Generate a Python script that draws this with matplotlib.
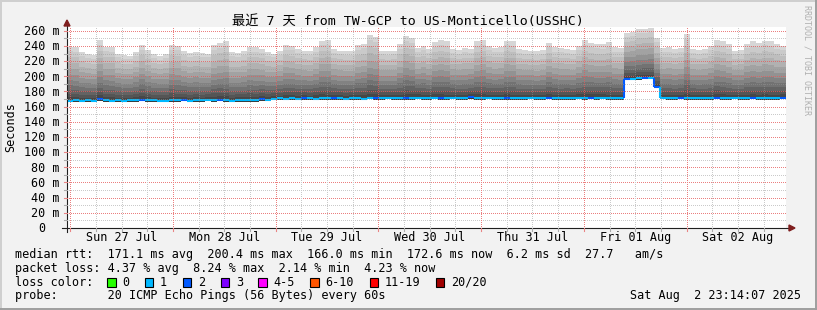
import numpy as np
import matplotlib
matplotlib.use("Agg")
import matplotlib.pyplot as plt
from matplotlib.lines import Line2D
from matplotlib.patches import Polygon, Rectangle
from matplotlib.collections import LineCollection

# ---------------- data ----------------
title = "最近 7 天 from TW-GCP to US-Monticello(USSHC)"
day_labels = ["Sun 27 Jul", "Mon 28 Jul", "Tue 29 Jul", "Wed 30 Jul",
              "Thu 31 Jul", "Fri 01 Aug", "Sat 02 Aug"]
span_hours = 168.0          # 7 days ending Sat Aug 2 23:14:07
first_midnight_h = 0.765    # Jul 27 00:00 relative to start
step_h = 1.4                # hours per consolidated step

smoke_top_ms = [
    239, 238, 232, 229, 228, 248, 239, 238, 230, 228, 227, 232,
    241, 235, 229, 227, 229, 241, 240, 233, 231, 232, 231, 230,
    241, 244, 246, 232, 231, 233, 238, 238, 236, 232, 230, 233,
    241, 240, 236, 234, 233, 238, 247, 248, 236, 234, 233, 233,
    241, 243, 255, 252, 234, 233, 234, 242, 253, 250, 237, 240,
    236, 245, 248, 246, 236, 235, 237, 236, 246, 248, 240, 237,
    238, 247, 246, 236, 235, 234, 233, 235, 244, 238, 237, 236,
    235, 240, 248, 244, 243, 242, 245, 238, 237, 257, 258, 262,
    263, 264, 250, 237, 238, 236, 237, 256, 236, 235, 236, 240,
    248, 246, 242, 234, 235, 243, 246, 244, 247, 246, 242, 240,
]

median_ms = [
    168.0, 168.3, 167.8, 168.2, 168.0, 169.5, 168.1, 167.9, 168.3, 168.0, 168.6, 168.2,
    169.0, 168.1, 168.4, 168.0, 167.9, 168.5, 168.2, 169.3, 168.0, 168.4, 168.1, 168.9,
    168.2, 169.0, 168.3, 167.9, 168.5, 168.1, 168.7, 168.2, 169.8, 169.4, 170.2, 170.8,
    170.5, 171.0, 170.6, 171.3, 170.9, 170.7, 171.2, 170.8, 171.4, 170.9, 170.6, 171.1,
    171.0, 170.7, 171.5, 171.2, 170.9, 171.8, 171.1, 170.8, 171.4, 171.0, 172.0, 171.3,
    170.9, 171.6, 171.2, 170.8, 171.5, 171.1, 170.9, 172.1, 171.3, 171.0, 171.6, 171.2,
    171.0, 171.4, 170.8, 171.2, 170.9, 171.6, 171.1, 170.8, 171.5, 171.2, 170.9, 171.3,
    171.0, 171.7, 171.2, 172.0, 171.4, 171.6, 171.1, 170.9, 171.4, 196.5, 197.0, 197.5,
    197.8, 198.0, 186.0, 171.8, 171.2, 170.9, 171.5, 171.1, 171.4, 170.8, 171.2, 171.0,
    171.6, 171.1, 170.9, 171.5, 171.2, 171.0, 171.7, 171.2, 171.4, 170.9, 171.3, 171.8,
]

loss_class = [
    1, 1, 1, 1, 1, 2, 1, 1, 1, 1, 1, 1,
    2, 1, 1, 1, 1, 1, 1, 2, 1, 1, 1, 1,
    1, 2, 1, 1, 1, 1, 1, 1, 2, 1, 1, 1,
    1, 1, 1, 2, 1, 1, 1, 1, 2, 1, 1, 1,
    1, 1, 1, 2, 1, 1, 1, 1, 2, 1, 1, 1,
    1, 1, 2, 1, 1, 1, 1, 2, 1, 1, 1, 1,
    1, 2, 1, 1, 1, 1, 1, 1, 2, 1, 1, 1,
    1, 1, 1, 2, 1, 1, 1, 1, 1, 2, 1, 1,
    2, 1, 2, 1, 1, 1, 2, 1, 1, 1, 1, 1,
    2, 1, 1, 1, 1, 1, 2, 1, 1, 1, 1, 2,
]

loss_labels = ["0", "1", "2", "3", "4-5", "6-10", "11-19", "20/20"]
loss_colors = ["#26ff00", "#00b8ff", "#0059ff", "#7e00ff",
               "#ff00ff", "#ff5500", "#ff0000", "#a00000"]

rtt_stats = "median rtt:  171.1 ms avg  200.4 ms max  166.0 ms min  172.6 ms now  6.2 ms sd  27.7   am/s"
loss_stats = "packet loss: 4.37 % avg  8.24 % max  2.14 % min  4.23 % now"
probe_text = "probe:       20 ICMP Echo Pings (56 Bytes) every 60s"
stamp_text = "Sat Aug  2 23:14:07 2025"

y_major = list(range(20, 261, 20))
y_minor = list(range(10, 261, 20))

# ---------------- figure ----------------
W, H = 817, 310
MONO = "DejaVu Sans Mono"
FS = 8.5
Y_TOP = 265

fig = plt.figure(figsize=(W / 100, H / 100), dpi=100)
fig.patch.set_facecolor("#f2f2f2")


def fx(x):
    return x / W


def fy(y):
    return 1 - y / H


L, R, T, B = 67, 786, 27, 228
PW, PH = R - L, B - T
ax = fig.add_axes([fx(L), fy(B), PW / W, PH / H])
ax.set_xlim(0, span_hours)
ax.set_ylim(0, Y_TOP)
ax.set_facecolor("white")
for s in ax.spines.values():
    s.set_visible(False)
ax.set_xticks([])
ax.set_yticks([])

# smoke
top = np.array(smoke_top_ms, dtype=float)
med = np.array(median_ms, dtype=float)
edges = np.arange(len(top) + 1) * step_h
base = med - 2.0
fr = [0, 0.04, 0.09, 0.15, 0.22, 0.30, 0.39, 0.49, 0.60, 0.71, 0.82, 0.92, 1.0]
greys = ["#3a3a3a", "#474747", "#555555", "#636363", "#727272", "#828282",
         "#929292", "#a2a2a2", "#b1b1b1", "#bebebe", "#cacaca", "#d6d6d6"]
span = top - base
for k in range(len(greys)):
    lo = base + span * fr[k]
    hi = base + span * fr[k + 1]
    ax.stairs(hi, edges, baseline=lo, fill=True, color=greys[k], lw=0,
              zorder=1, antialiased=False)

# median line coloured by loss
segs, cols = [], []
for j in range(len(med)):
    segs.append([(edges[j], med[j]), (edges[j + 1], med[j])])
    cols.append(loss_colors[loss_class[j]])
    if j > 0 and abs(med[j] - med[j - 1]) > 2:
        segs.append([(edges[j], med[j - 1]), (edges[j], med[j])])
        cols.append(loss_colors[loss_class[j]])
ax.add_collection(LineCollection(segs, colors=cols, linewidths=1.5, zorder=4,
                                 capstyle="butt"))

# dotted grid as an unresampled pixel overlay (1 on / 1 off)
grid_rgba = np.array([150, 150, 150, 0.5 * 255]) / 255
mgrid_rgba = np.array([230, 90, 90, 0.78 * 255]) / 255
overlay = np.zeros((PH, PW, 4))


def row_of(v):
    return int(round(PH - v / Y_TOP * PH))


def col_of(t):
    return int(round(t / span_hours * PW))


cols_all = np.arange(PW)
rows_all = np.arange(PH)
for v in y_minor:
    overlay[row_of(v), cols_all[cols_all % 2 == 0]] = grid_rgba
for v in y_major:
    overlay[row_of(v), cols_all[cols_all % 2 == 0]] = mgrid_rgba
h = first_midnight_h
q = 0
while h < span_hours:
    c = col_of(h)
    if 0 <= c < PW:
        overlay[rows_all[rows_all % 2 == 1], c] = mgrid_rgba if q % 4 == 0 else grid_rgba
    h += 6
    q += 1
fig.figimage(overlay, xo=L, yo=H - B, origin="upper", zorder=5)


# axes lines and arrows (figure pixels)
def pline(x0, y0, x1, y1, color, lw=1.0):
    fig.add_artist(Line2D([fx(x0), fx(x1)], [fy(y0), fy(y1)], color=color,
                          lw=lw, transform=fig.transFigure, zorder=10))


pline(L, B + 4, L, 26, "#1f1f1f", 0.8)
pline(62, B, 790, B, "#1f1f1f", 0.8)
fig.add_artist(Polygon([[fx(L - 3), fy(26)], [fx(L + 3), fy(26)], [fx(L), fy(20)]],
                       closed=True, color="#7f1f1f", transform=fig.transFigure, zorder=11))
fig.add_artist(Polygon([[fx(789), fy(B - 3)], [fx(789), fy(B + 3)], [fx(795), fy(B)]],
                       closed=True, color="#7f1f1f", transform=fig.transFigure, zorder=11))


def xpix(t):
    return L + t / span_hours * PW


def ypix(v):
    return B - v / Y_TOP * PH


# ticks
for v in range(10, 261, 10):
    pline(L - 3, ypix(v), L, ypix(v), "#ababab" if v % 20 else "#e98585", 0.8)
h = first_midnight_h
q = 0
while h < span_hours:
    pline(xpix(h), B, xpix(h), B + 3, "#e98585" if q % 4 == 0 else "#ababab", 0.8)
    h += 6
    q += 1

# y tick labels
for v in [0] + y_major:
    lab = f"{v} m" if v else "0"
    xr = 59.5 if v else 59.5 - 2 * 7.1
    fig.text(fx(xr), fy(ypix(v) + 4.3), lab, ha="right", va="baseline",
             fontsize=FS, family=MONO, color="#000000")

# x labels
for d, lab in enumerate(day_labels):
    t = first_midnight_h + 12 + 24 * d
    fig.text(fx(xpix(t)), fy(241), lab, ha="center", va="baseline",
             fontsize=FS, family=MONO, color="#000000")

# title and side texts
fig.text(fx(408), fy(25), title, ha="center", va="baseline", fontsize=9.5,
         family=[MONO, "Noto Sans CJK SC"], color="#000000")
fig.text(fx(10.5), fy(127), "Seconds", rotation=90, ha="center", va="center",
         fontsize=FS, family=MONO, color="#000000")
fig.text(fx(807), fy(5), "RRDTOOL / TOBI OETIKER", rotation=-90, ha="center",
         va="top", fontsize=6, family=MONO, color="#b0b0b0")

# legend
X0 = 15
CW = 7.1
fig.text(fx(X0), fy(258.3), rtt_stats, ha="left", va="baseline", fontsize=FS, family=MONO)
fig.text(fx(X0), fy(271.8), loss_stats, ha="left", va="baseline", fontsize=FS, family=MONO)
fig.text(fx(X0), fy(285.5), "loss color:", ha="left", va="baseline", fontsize=FS, family=MONO)
bx = X0 + 13 * CW
for lab, col in zip(loss_labels, loss_colors):
    fig.add_artist(Rectangle((fx(bx), fy(286.7)), 8.3 / W, 8.3 / H, facecolor=col,
                             edgecolor="#000000", lw=0.8, transform=fig.transFigure))
    tx = bx + 15
    fig.text(fx(tx), fy(285.5), lab, ha="left", va="baseline", fontsize=FS, family=MONO)
    bx = tx + len(lab) * CW + 15.7
fig.text(fx(X0), fy(298.5), probe_text, ha="left", va="baseline", fontsize=FS, family=MONO)
fig.text(fx(800.5), fy(298.5), stamp_text, ha="right", va="baseline", fontsize=FS, family=MONO)

# 3D frame
pline(0.7, 0, 0.7, H, "#cfcfcf", 1.4)
pline(0, 0.7, W, 0.7, "#cfcfcf", 1.4)
pline(0, H - 1, W, H - 1, "#9e9e9e", 1.4)
pline(W - 1, 0, W - 1, H, "#9e9e9e", 1.4)

fig.savefig("out.png", dpi=100, facecolor=fig.get_facecolor())
